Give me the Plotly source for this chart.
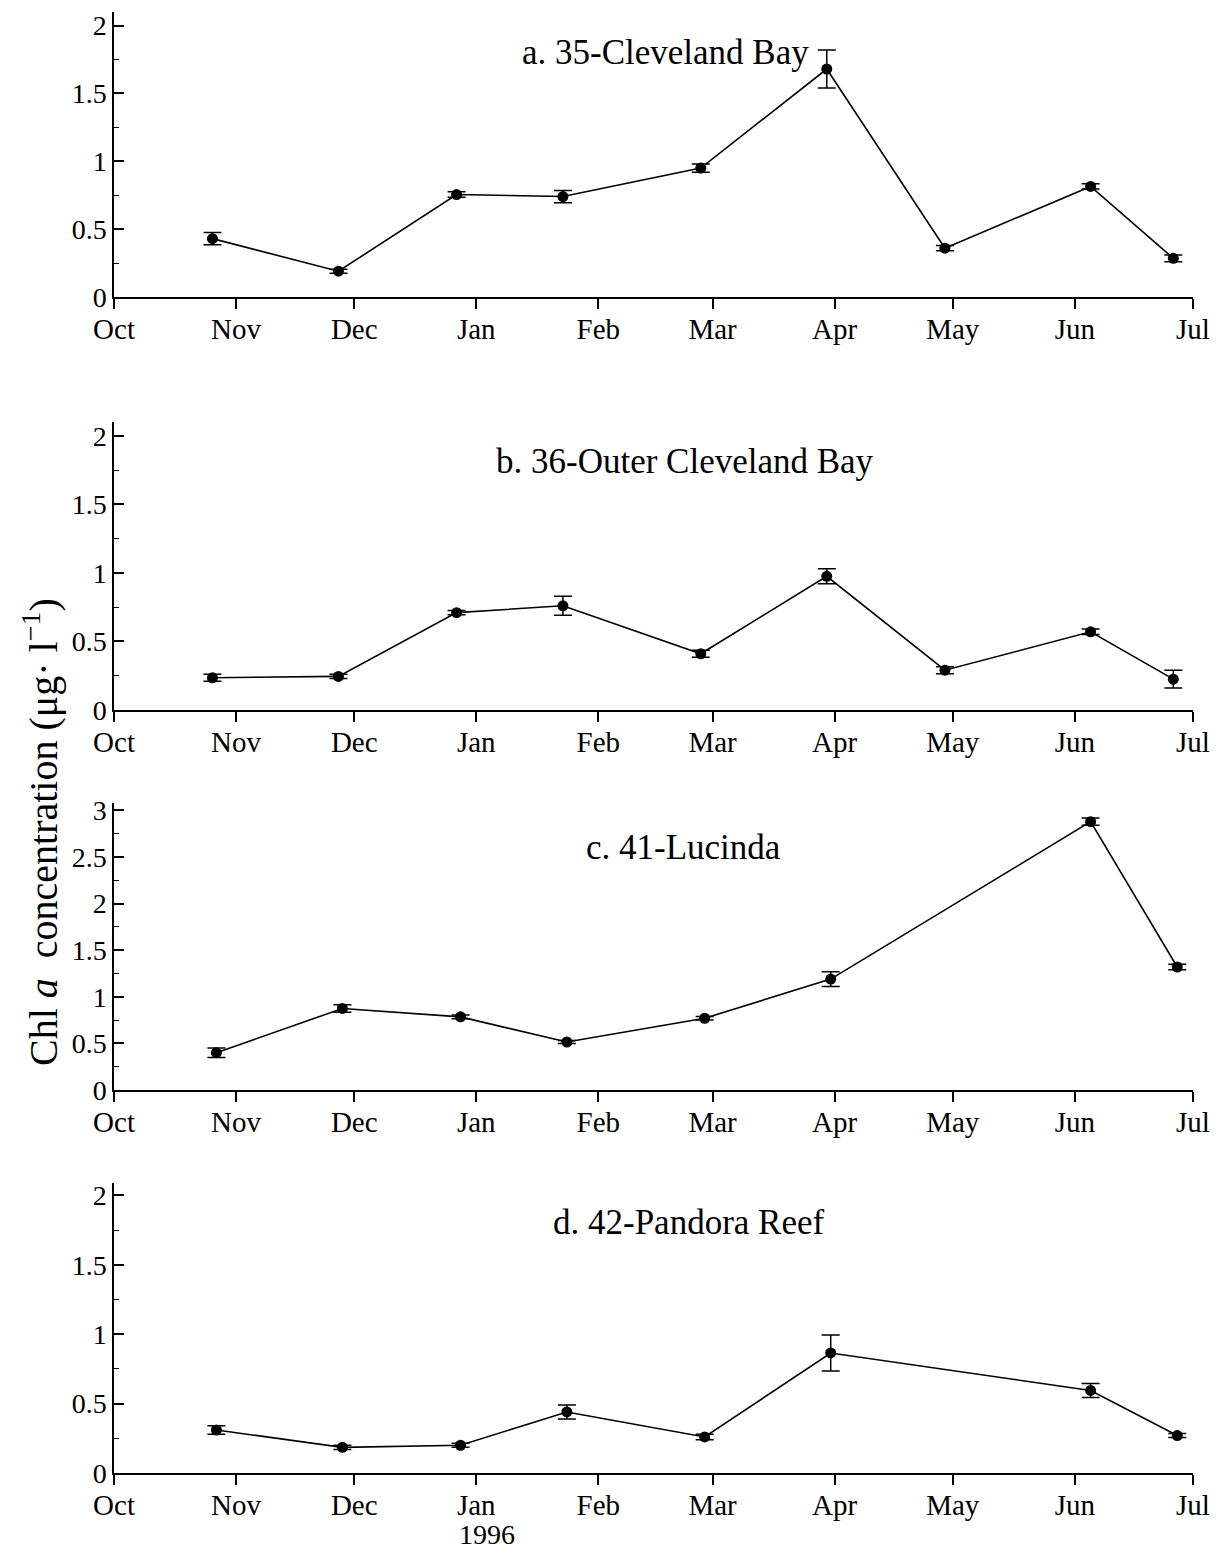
import plotly.graph_objects as go
from plotly.subplots import make_subplots

# sampling dates (1995-96)
dates_a = ['1995-10-26', '1995-11-27', '1995-12-27', '1996-01-23', '1996-02-27',
           '1996-03-30', '1996-04-29', '1996-06-05', '1996-06-26']
dates_b = dates_a
dates_c = ['1995-10-27', '1995-11-28', '1995-12-28', '1996-01-24', '1996-02-28',
           '1996-03-31', '1996-06-05', '1996-06-27']
dates_d = ['1995-10-27', '1995-11-28', '1995-12-28', '1996-01-24', '1996-02-28',
           '1996-03-31', '1996-06-05', '1996-06-27']

# Chl a mean and error (ug/l)
chl_a = [0.43, 0.19, 0.755, 0.74, 0.95, 1.68, 0.36, 0.815, 0.285]
err_a = [0.045, 0.015, 0.02, 0.045, 0.03, 0.14, 0.02, 0.02, 0.025]
chl_b = [0.235, 0.245, 0.71, 0.76, 0.41, 0.975, 0.29, 0.57, 0.225]
err_b = [0.025, 0.015, 0.015, 0.07, 0.025, 0.055, 0.025, 0.02, 0.065]
chl_c = [0.40, 0.875, 0.785, 0.515, 0.77, 1.19, 2.88, 1.32]
err_c = [0.05, 0.04, 0.02, 0.015, 0.02, 0.08, 0.04, 0.03]
chl_d = [0.31, 0.185, 0.2, 0.44, 0.26, 0.865, 0.595, 0.27]
err_d = [0.03, 0.015, 0.015, 0.05, 0.02, 0.13, 0.05, 0.015]

titles = ['a. 35-Cleveland Bay', 'b. 36-Outer Cleveland Bay',
          'c. 41-Lucinda', 'd. 42-Pandora Reef']
month_ticks = ['1995-10-01', '1995-11-01', '1995-12-01', '1996-01-01', '1996-02-01',
               '1996-03-01', '1996-04-01', '1996-05-01', '1996-06-01', '1996-07-01']
month_labels = ['Oct', 'Nov', 'Dec', 'Jan', 'Feb', 'Mar', 'Apr', 'May', 'Jun', 'Jul']

# page has an 8px body margin, so the figure is a bit smaller than the window
OFF = 8
W, H = 1219 - 2 * OFF, 1557 - 2 * OFF
FONT = 'Liberation Serif'


def px(x):
    return (x - OFF) / W


def py(y):
    return 1 - (y - OFF) / H


fig = make_subplots(rows=4, cols=1)

panels = [(dates_a, chl_a, err_a), (dates_b, chl_b, err_b),
          (dates_c, chl_c, err_c), (dates_d, chl_d, err_d)]
for i, (d, v, e) in enumerate(panels):
    fig.add_trace(go.Scatter(x=d, y=v, mode='lines+markers',
                             line=dict(color='black', width=1.6),
                             marker=dict(color='black', size=11),
                             error_y=dict(type='data', array=e, color='black',
                                          thickness=1.5, width=9),
                             showlegend=False), row=i + 1, col=1)

# plot areas in reference pixels (top, bottom) and y ranges
boxes = [(12, 297), (422, 710), (803, 1090), (1183, 1473)]
yranges = [[0, 2.1], [0, 2.1], [0, 3.08], [0, 2.09]]
x0, x1 = 114, 1193

for i in range(4):
    top, bot = boxes[i]
    xa = 'xaxis' if i == 0 else 'xaxis%d' % (i + 1)
    ya = 'yaxis' if i == 0 else 'yaxis%d' % (i + 1)
    fig.layout[xa].update(domain=[px(x0), px(x1)], type='date', automargin=False,
                          range=['1995-10-01', '1996-07-01'],
                          tickvals=month_ticks, ticktext=month_labels,
                          ticks='outside', ticklen=10, tickwidth=1.5, tickcolor='black',
                          ticklabelstandoff=-5,
                          showline=True, linecolor='black', linewidth=2,
                          showgrid=False, zeroline=False,
                          tickfont=dict(family=FONT, size=29, color='black'))
    fig.layout[ya].update(domain=[py(bot), py(top)], range=yranges[i], automargin=False,
                          tick0=0, dtick=0.5,
                          ticks='inside', ticklen=10, tickwidth=1.5, tickcolor='black',
                          minor=dict(ticks='inside', dtick=0.25, ticklen=5,
                                     tickwidth=1, tickcolor='black', showgrid=False),
                          showline=True, linecolor='black', linewidth=1.5,
                          showgrid=False, zeroline=False,
                          tickfont=dict(family=FONT, size=28, color='black'))

# panel titles
title_pos = [(665, 52), (685, 462), (683, 847), (689, 1222)]
for t, (tx, ty) in zip(titles, title_pos):
    fig.add_annotation(text=t, x=px(tx), y=py(ty), xref='paper', yref='paper',
                       xanchor='center', yanchor='middle', showarrow=False,
                       font=dict(family=FONT, size=35, color='black'))

# y axis label shared by all panels
fig.add_annotation(text='Chl <i>a</i>  concentration (μg· l<sup>−1</sup>)',
                   x=px(40), y=py(832), xref='paper', yref='paper',
                   xanchor='center', yanchor='middle',
                   textangle=-90, showarrow=False,
                   font=dict(family=FONT, size=40, color='black'))

# year under the Jan tick of the last panel
fig.add_annotation(text='1996', x=px(487), y=py(1534), xref='paper', yref='paper',
                   xanchor='center', yanchor='middle', showarrow=False,
                   font=dict(family=FONT, size=28, color='black'))

fig.update_layout(width=W, height=H, margin=dict(l=0, r=0, t=0, b=0),
                  plot_bgcolor='white', paper_bgcolor='white')

fig.write_html('out.html')
